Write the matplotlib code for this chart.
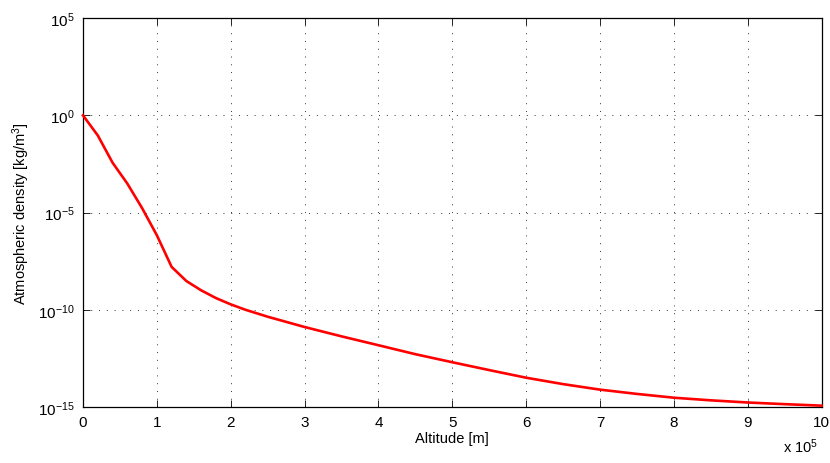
import matplotlib
matplotlib.use('Agg')
import matplotlib.pyplot as plt
from matplotlib.ticker import FixedLocator, FuncFormatter, NullLocator

plt.rcParams['font.family'] = ['Liberation Sans', 'DejaVu Sans']
plt.rcParams['mathtext.fontset'] = 'custom'
plt.rcParams['mathtext.rm'] = 'Liberation Sans'
plt.rcParams['mathtext.it'] = 'Liberation Sans'

# altitude [m] and density [kg/m^3]
altitude = [0, 2e4, 4e4, 6e4, 8e4, 1e5, 1.2e5, 1.4e5, 1.6e5, 1.8e5, 2e5,
            2.2e5, 2.5e5, 3e5, 3.5e5, 4e5, 4.5e5, 5e5, 5.5e5, 6e5, 6.5e5,
            7e5, 7.5e5, 8e5, 8.5e5, 9e5, 9.5e5, 1e6]
density = [1.0, 9.3e-2, 3.7e-3, 3.1e-4, 1.7e-5, 6.8e-7, 1.6e-8, 3.0e-9,
           1.0e-9, 4.0e-10, 1.9e-10, 1.0e-10, 4.4e-11, 1.3e-11, 4.3e-12,
           1.5e-12, 5.2e-13, 2.0e-13, 7.9e-14, 3.2e-14, 1.5e-14, 7.8e-15,
           4.7e-15, 3.0e-15, 2.2e-15, 1.7e-15, 1.4e-15, 1.17e-15]

x_ticks = [i * 1e5 for i in range(11)]
y_ticks = [1e-15, 1e-10, 1e-5, 1e0, 1e5]
y_labels = ['$10^{-15}$', '$10^{-10}$', '$10^{-5}$', '$10^{0}$', '$10^{5}$']

fig = plt.figure(figsize=(8.3, 4.64), dpi=100)
ax = fig.add_axes([0.1, 0.1207, 0.89, 0.838])
ax.plot(altitude, density, color='red', linewidth=1.9, clip_on=False, zorder=3)
ax.set_yscale('log')
ax.set_xlim(0, 1e6)
ax.set_ylim(1e-15, 1e5)

ax.xaxis.set_major_locator(FixedLocator(x_ticks))
ax.xaxis.set_major_formatter(FuncFormatter(lambda v, p: '{:d}'.format(int(round(v / 1e5)))))
ax.yaxis.set_major_locator(FixedLocator(y_ticks))
ax.set_yticklabels(y_labels)
ax.yaxis.set_minor_locator(NullLocator())
ax.xaxis.set_minor_locator(NullLocator())

ax.tick_params(direction='in', length=5, width=0.6, top=True, right=True,
               labelsize=11, pad=6)
ax.grid(True, linestyle=(0, (1, 7)), color='#333333', linewidth=0.7)
for s in ax.spines.values():
    s.set_linewidth(0.9)

ax.set_xlabel('Altitude [m]', fontsize=10.5, labelpad=1)
ax.set_ylabel('Atmospheric density [kg/m$^3$]', fontsize=10.5, labelpad=4)
fig.text(0.943, 0.018, 'x $10^{5}$', fontsize=10.5, ha='left', va='bottom')

fig.savefig('out.png', dpi=100)
